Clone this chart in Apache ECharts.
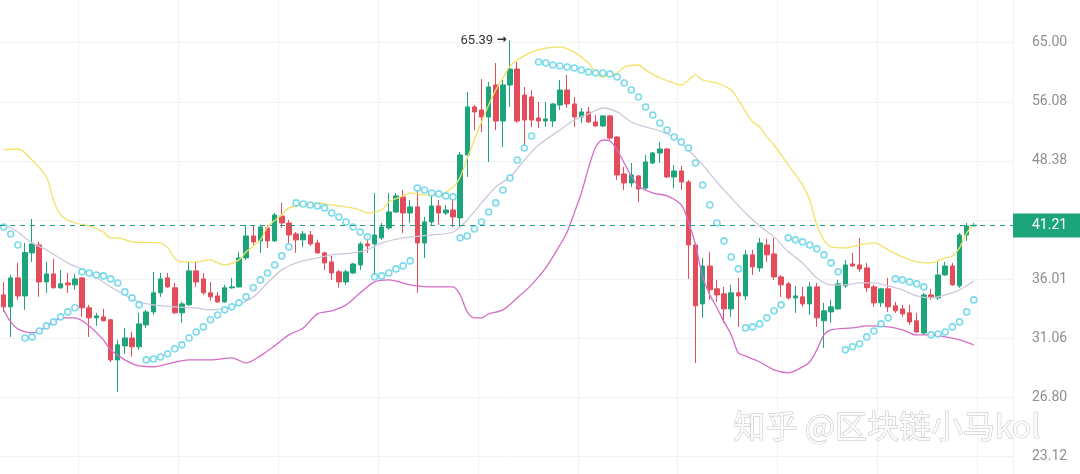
<!DOCTYPE html>
<html><head><meta charset="utf-8">
<script src="https://cdn.jsdelivr.net/npm/echarts@6/dist/echarts.min.js"></script>
<style>html,body{margin:0;padding:0;background:#fff}#c{width:1080px;height:474px}</style>
</head><body><div id="c"></div>
<script>
const categories = Array.from({length: 142}, (_, i) => String(i + 1));
// [open, close, low, high]
const ohlc = [
[34.63,33.61,33.19,35.77],[33.61,36.13,31.18,36.40],[36.13,34.54,34.20,37.51],[34.54,38.49,33.36,39.43],
[38.46,39.33,37.60,41.86],[39.23,35.77,34.46,39.53],[35.77,36.49,34.81,37.60],[36.49,35.25,35.20,37.89],
[35.25,35.60,35.16,36.86],[35.68,35.51,34.81,36.58],[35.51,36.04,35.07,36.49],[36.13,33.53,32.78,36.22],
[33.53,32.70,31.18,33.78],[32.70,32.86,32.05,33.11],[32.78,32.46,32.40,33.44],[32.54,29.44,29.29,32.62],
[29.44,30.57,27.18,30.95],[30.49,31.10,29.89,31.89],[31.10,30.42,29.67,31.57],[30.42,32.21,30.19,33.11],
[32.13,33.19,31.89,33.36],[33.19,34.81,32.94,36.68],[34.81,36.04,34.46,36.58],[36.13,35.33,35.25,36.58],
[35.25,33.11,33.03,35.68],[33.11,33.86,32.29,34.03],[33.78,36.77,33.70,37.60],[36.77,35.77,35.33,37.60],
[36.04,34.81,34.63,36.58],[34.81,34.46,34.12,35.77],[34.54,34.03,33.95,34.89],[34.03,35.25,33.95,35.51],
[35.25,35.33,35.16,36.13],[35.33,37.98,35.25,38.56],[37.98,40.12,37.79,41.24],[40.12,39.53,39.23,41.24],
[39.63,41.03,38.46,41.24],[40.93,39.63,38.94,41.24],[39.63,42.28,39.53,42.49],[42.17,41.44,40.93,43.57],
[41.44,40.22,39.43,41.76],[40.32,39.73,38.46,40.52],[39.73,40.32,39.04,40.62],[40.22,39.33,39.14,40.62],
[39.43,38.46,38.36,39.73],[38.46,37.51,36.86,38.56],[37.60,36.58,35.95,38.17],[36.68,35.77,35.25,36.86],
[35.77,36.68,35.51,36.86],[36.58,37.41,36.50,37.51],[37.32,39.33,36.86,39.53],[39.33,39.14,38.46,40.22],
[39.33,40.22,36.13,44.67],[39.93,41.03,39.73,41.44],[40.93,42.60,40.73,44.67],[42.60,44.34,42.49,44.67],
[44.23,42.49,40.42,45.00],[42.49,43.14,41.44,43.89],[43.14,39.43,34.81,45.11],[39.43,41.55,37.98,42.07],
[41.55,43.24,41.24,44.67],[43.24,42.49,41.24,43.89],[42.49,42.81,42.28,43.35],[42.81,42.07,41.03,44.23],
[41.97,49.11,40.93,49.48],[49.11,55.37,46.49,57.48],[55.37,54.68,52.27,55.64],[54.95,54.00,52.01,59.37],
[54.00,58.20,48.26,58.93],[58.49,53.46,52.27,61.79],[53.46,58.49,50.10,59.22],[58.49,60.87,55.37,65.39],
[60.87,53.46,53.20,61.94],[57.05,53.59,49.98,58.20],[56.77,53.59,52.67,57.76],[53.86,53.46,52.53,56.06],
[53.46,53.73,52.67,56.06],[53.46,55.78,52.67,55.92],[55.64,57.76,54.95,59.22],[57.76,55.78,55.22,59.97],
[55.78,54.00,52.67,56.77],[54.00,54.68,53.20,55.22],[54.68,53.33,53.20,55.37],[53.33,52.80,52.70,54.27],
[52.80,54.14,52.67,54.27],[54.14,51.23,50.98,54.27],[51.36,46.72,46.14,51.49],[46.84,45.80,45.00,47.66],
[45.80,46.72,45.34,48.14],[46.61,45.11,43.67,46.72],[45.22,48.26,45.00,49.11],[48.14,49.36,48.02,49.48],
[49.36,49.85,48.14,50.73],[49.85,46.49,46.37,49.98],[46.49,47.19,45.22,47.90],[47.19,45.91,45.00,47.78],
[45.91,39.23,36.04,46.14],[39.23,33.70,29.22,39.43],[33.86,37.22,32.70,37.98],[37.22,35.07,34.20,38.56],
[35.16,34.63,34.03,35.95],[34.72,33.44,32.29,35.33],[33.44,34.81,32.78,35.51],[34.81,34.54,31.97,36.13],
[34.54,38.27,34.20,38.75],[38.27,37.14,36.40,38.75],[37.04,39.43,36.68,39.93],[39.23,38.27,37.60,39.83],
[38.36,36.22,35.95,39.93],[36.22,35.51,34.46,36.40],[35.60,34.37,34.20,35.77],[34.37,34.54,33.11,35.42],
[34.46,33.86,33.61,35.33],[33.86,35.33,32.94,35.77],[35.33,32.70,31.97,35.68],[32.46,33.28,30.34,33.95],
[33.19,33.61,32.29,34.20],[33.44,35.60,33.36,35.95],[35.42,37.32,35.25,37.79],[37.41,37.22,37.14,38.46],
[37.32,36.95,36.68,39.93],[37.04,35.25,34.89,37.51],[35.33,33.95,33.61,35.51],[33.95,35.16,33.61,35.25],
[35.16,33.61,33.19,36.13],[33.70,33.28,33.11,34.03],[33.44,33.03,32.78,33.78],[33.11,32.37,32.13,33.78],
[32.46,31.57,31.49,33.11],[31.49,34.63,31.34,34.81],[34.63,34.46,34.20,35.16],[34.37,36.40,34.20,37.60],
[36.40,37.22,36.31,37.60],[37.22,35.51,35.42,37.51],[35.42,40.22,35.25,40.42],[40.22,41.14,39.63,41.44],
[41.14,41.21,41.09,41.44]
];
// [candle index, price]
const bbUpper = [[0,49.73],[2,49.85],[4,48.50],[6,46.49],[7,43.89],[8,42.28],[10,41.44],[12,41.14],[14,40.52],[15,39.93],[16,39.93],[18,39.53],[22,39.43],[23,38.94],[24,37.98],[25,37.60],[27,37.60],[29,37.79],[30,37.51],[31,37.32],[33,37.79],[34,38.56],[36,39.73],[37,41.03],[39,42.28],[40,43.03],[42,43.35],[44,43.57],[46,43.35],[48,43.14],[50,42.81],[51,42.49],[53,42.81],[54,43.67],[56,44.34],[57,44.67],[59,44.45],[61,44.45],[63,45.34],[64,46.49],[65,48.74],[66,50.98],[67,53.33],[68,55.64],[69,57.76],[70,59.52],[71,61.33],[72,62.25],[74,63.50],[76,64.14],[78,64.30],[80,63.50],[82,61.79],[83,60.27],[84,59.67],[86,60.27],[87,61.17],[89,61.48],[90,60.72],[92,59.52],[94,58.78],[95,58.49],[96,59.22],[97,59.97],[98,59.22],[100,58.78],[102,57.76],[103,56.34],[105,53.33],[106,52.67],[107,51.36],[108,50.35],[110,47.90],[112,45.57],[113,43.89],[114,41.24],[115,39.73],[116,39.04],[118,38.94],[120,39.23],[122,39.43],[124,38.75],[126,38.07],[128,37.60],[130,37.51],[132,37.98],[133,38.17],[134,38.94],[135,40.42],[136,41.24]];
const bbMiddle = [[0,41.34],[2,40.52],[4,39.43],[6,38.75],[9,37.51],[12,36.58],[15,35.33],[17,34.63],[19,34.03],[21,33.78],[24,33.61],[27,33.53],[29,33.36],[32,33.61],[35,34.46],[37,35.68],[39,36.86],[41,37.51],[44,37.98],[46,38.27],[49,38.46],[51,38.75],[53,39.43],[56,39.93],[60,40.22],[63,40.52],[65,41.76],[67,43.57],[69,45.34],[71,46.49],[73,48.50],[75,50.35],[78,52.27],[80,53.59],[82,54.41],[84,55.22],[86,54.68],[88,53.33],[90,52.67],[92,52.14],[94,51.36],[96,49.73],[98,47.90],[100,45.91],[102,44.12],[104,42.49],[106,41.14],[108,40.03],[110,38.56],[112,37.51],[114,36.13],[116,35.51],[118,35.51],[120,35.68],[122,35.68],[124,35.42],[126,35.07],[128,34.54],[130,34.37],[132,34.63],[134,35.07],[136,35.86]];
const bbLower = [[0,33.36],[1,32.37],[2,31.81],[4,31.49],[5,31.65],[7,32.37],[8,32.70],[10,32.70],[12,32.05],[14,30.95],[15,30.19],[17,29.44],[19,29.00],[21,28.94],[23,29.15],[26,29.44],[29,29.44],[32,29.59],[34,29.22],[36,29.74],[38,30.49],[40,31.34],[42,31.89],[44,33.03],[46,33.28],[48,33.78],[50,34.81],[52,35.77],[54,35.95],[57,35.51],[60,35.33],[63,35.33],[64,34.63],[65,33.19],[66,32.70],[67,32.70],[68,33.03],[70,33.36],[72,34.37],[74,35.51],[76,37.04],[78,39.23],[79,40.52],[80,42.49],[81,44.67],[82,47.55],[83,50.10],[84,50.98],[85,50.85],[86,49.73],[87,48.14],[88,46.61],[89,45.45],[91,44.67],[93,44.34],[95,43.35],[96,41.55],[97,39.23],[98,36.22],[99,34.63],[100,33.53],[101,32.37],[102,31.34],[103,29.96],[104,29.74],[106,29.29],[108,28.72],[110,28.51],[112,28.93],[113,29.29],[114,30.19],[115,31.34],[116,31.73],[119,31.89],[121,32.05],[124,31.97],[126,31.73],[128,31.34],[130,31.34],[132,31.18],[134,30.95],[136,30.57]];
const sar = [41.03,40.32,39.23,31.10,31.18,31.65,32.05,32.37,32.78,33.19,33.53,36.68,36.58,36.40,36.31,36.04,35.68,34.89,34.37,33.78,
29.44,29.51,29.66,29.89,30.27,30.57,31.10,31.57,31.97,32.54,32.94,33.36,33.61,33.95,34.46,35.25,35.95,36.58,37.32,38.17,39.04,
43.57,43.46,43.35,43.24,43.03,42.49,42.07,41.55,41.03,40.52,40.03,36.22,36.31,36.58,36.95,37.23,37.70,
45.22,45.00,44.67,44.56,44.34,44.23,39.93,40.12,40.83,41.55,42.60,43.57,45.00,46.37,48.50,49.98,51.49,
61.94,61.79,61.48,61.33,61.17,61.02,60.72,60.42,60.27,60.27,60.12,59.67,58.78,57.76,56.77,55.36,54.27,53.20,52.27,51.36,50.73,49.98,48.14,45.57,43.35,41.44,39.63,38.07,36.95,
31.89,31.97,32.21,32.70,33.28,33.78,39.93,39.73,39.53,39.23,38.85,38.27,37.51,36.68,
30.19,30.42,30.65,31.18,31.65,32.21,32.70,36.04,35.95,35.77,35.60,35.33,
31.34,31.41,31.57,31.97,32.37,33.19,34.20];
const yTickLabels = ['23.12','26.80','31.06','36.01','41.74','48.38','56.08','65.00'];
const lastPrice = 41.21;
const highIndex = 71, highPrice = 65.39;

// log-price scale: one tick step = ratio (65.00/23.12)^(1/7)
const BASE = 23.12, TOPV = 65.00;
const STEP = Math.log(TOPV / BASE) / 7;
const toAxis = p => Math.log(p / BASE) / STEP;
const tickSteps = yTickLabels.map((_, i) => i);

const GREEN = '#1ca57a', RED = '#e34d5b';
const chart = echarts.init(document.getElementById('c'), null, {renderer: 'canvas'});
chart.setOption({
  animation: false,
  backgroundColor: '#ffffff',
  grid: {left: 0, right: 67, top: 0, bottom: 0, containLabel: false},
  xAxis: {
    type: 'category', data: categories, boundaryGap: true,
    axisLine: {show: false}, axisTick: {show: false}, axisLabel: {show: false},
    splitLine: {show: true, interval: (i) => (i - 11) % 14 === 0, lineStyle: {color: '#f3f3f3', width: 1}}
  },
  yAxis: {
    type: 'value', position: 'right', min: -0.2925, max: 7.7223,
    axisLine: {show: false},
    axisTick: {show: false, customValues: tickSteps},
    axisLabel: {margin: 19, color: '#8f8f8f', fontSize: 14, fontFamily: 'Roboto',
      customValues: tickSteps.filter(v => v !== 4),
      formatter: v => (yTickLabels[Math.round(v)] || '')},
    splitLine: {show: true, lineStyle: {color: '#f3f3f3', width: 1}}
  },
  series: [
    {
      type: 'candlestick', barWidth: 5, silent: true,
      data: ohlc.map(d => d.map(toAxis)),
      itemStyle: {color: GREEN, color0: RED, borderColor: GREEN, borderColor0: RED, borderWidth: 1},
      markLine: {
        silent: true, symbol: ['none', 'none'], animation: false,
        lineStyle: {color: '#1a9e85', type: [5, 5], width: 1},
        label: {show: true, position: 'end', distance: 0, formatter: lastPrice.toFixed(2),
          backgroundColor: GREEN, color: '#ffffff', fontSize: 14, fontFamily: 'Roboto',
          padding: [5, 13, 5, 19]},
        data: [{yAxis: toAxis(lastPrice)}]
      },
      markPoint: {
        silent: true, animation: false,
        data: [{coord: [highIndex, toAxis(highPrice)], symbol: 'circle', symbolSize: 1,
          itemStyle: {color: 'rgba(0,0,0,0)'},
          label: {show: true, position: 'left', distance: 3,
            formatter: '{a|' + highPrice.toFixed(2) + '} {b|\u2192}',
            rich: {a: {color: '#333333', fontSize: 13, fontFamily: 'Roboto'},
                   b: {color: '#333333', fontSize: 12, fontFamily: 'DejaVu Sans', fontWeight: 'bold'}}}}]
      }
    },
    {type: 'line', data: bbUpper.map(([i, p]) => [i, toAxis(p)]), symbol: 'none', smooth: 0.3, silent: true,
      lineStyle: {color: '#f2e266', width: 1.3}, z: 3},
    {type: 'line', data: bbMiddle.map(([i, p]) => [i, toAxis(p)]), symbol: 'none', smooth: 0.3, silent: true,
      lineStyle: {color: '#cdc8dc', width: 1.3}, z: 3},
    {type: 'line', data: bbLower.map(([i, p]) => [i, toAxis(p)]), symbol: 'none', smooth: 0.3, silent: true,
      lineStyle: {color: '#d56cc8', width: 1.3}, z: 3},
    {type: 'scatter', data: sar.map((p, i) => [i, toAxis(p)]), symbol: 'circle', symbolSize: 6, silent: true,
      itemStyle: {color: '#ffffff', borderColor: '#5ad2e6', borderWidth: 1.6}, z: 4}
  ],
  graphic: [{
    type: 'text', left: 733, top: 409, z: 100, silent: true,
    style: {text: '知乎 @区块链小马kol', fontSize: 32, fontFamily: '"Noto Sans CJK SC"',
      fill: '#fbfbfb', stroke: 'rgba(0,0,0,0.26)', lineWidth: 1}
  }]
});
</script>
</body></html>
